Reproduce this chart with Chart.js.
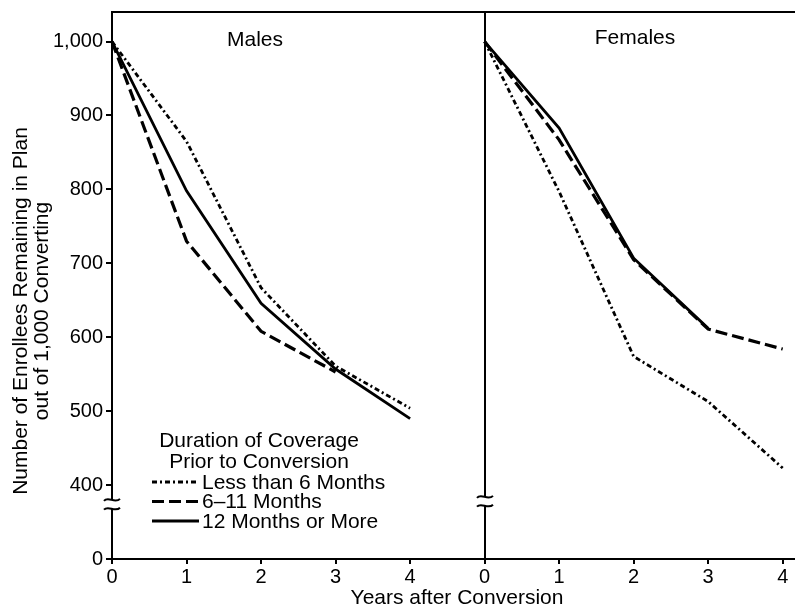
<!DOCTYPE html>
<html>
<head>
<meta charset="utf-8">
<script src="https://cdn.jsdelivr.net/npm/chart.js@4/dist/chart.umd.min.js"></script>
<style>
  html, body { margin: 0; padding: 0; background: #fff; }
  #wrap { width: 795px; height: 614px; }
</style>
</head>
<body>
<div id="wrap"><canvas id="retention"></canvas></div>
<script>
// years after conversion, same for both panels
const years = [0, 1, 2, 3, 4];
// females panel starts 5 units to the right of the males panel
const panelOffset = 5;

// enrollees remaining per 1,000 converting
const malesLess6 = [1000, 865, 667, 561, 504];
const males6to11 = [1000, 730, 608, 553];
const males12plus = [1000, 798, 646, 557, 490];
const femalesLess6 = [1000, 797, 574, 513, 423];
const females6to11 = [1000, 867, 705, 611, 584];
const females12plus = [1000, 883, 707, 612];

// ticks: the broken y axis puts "0" where 300 would sit
const yTicks = [300, 400, 500, 600, 700, 800, 900, 1000];
const xTicks = [0, 1, 2, 3, 4, 5, 6, 7, 8, 9];

const legendTitle = ['Duration of Coverage', 'Prior to Conversion'];
const seriesNames = ['Less than 6 Months', '6\u201311 Months', '12 Months or More'];

const FONT = '"Liberation Sans", Arial, sans-serif';
const styles = [
    { dash: [5, 3, 2, 3], width: 2.8 },
    { dash: [12, 5], width: 3.2 },
    { dash: [], width: 2.8 }
];

const toPoints = (vals, off) => vals.map((v, i) => ({ x: years[i] + off, y: v }));

const makeSet = (label, vals, off, s) => ({
    label: label,
    data: toPoints(vals, off),
    borderColor: '#000',
    borderWidth: s.width,
    borderDash: s.dash,
    pointRadius: 0,
    tension: 0,
    fill: false,
    clip: false
});

const datasets = [
    makeSet(seriesNames[0], malesLess6, 0, styles[0]),
    makeSet(seriesNames[1], males6to11, 0, styles[1]),
    makeSet(seriesNames[2], males12plus, 0, styles[2]),
    makeSet(seriesNames[0], femalesLess6, panelOffset, styles[0]),
    makeSet(seriesNames[1], females6to11, panelOffset, styles[1]),
    makeSet(seriesNames[2], females12plus, panelOffset, styles[2])
];

// wavy break mark across a vertical axis line
function drawBreak(ctx, x, yTop, yBot) {
    ctx.save();
    ctx.fillStyle = '#fff';
    ctx.fillRect(x - 3, yTop, 6, yBot - yTop);
    ctx.strokeStyle = '#000';
    ctx.lineWidth = 2;
    ctx.setLineDash([]);
    [yTop, yBot].forEach(y => {
        ctx.beginPath();
        ctx.moveTo(x - 8, y + 1);
        ctx.bezierCurveTo(x - 4, y - 4, x + 3, y + 4, x + 8, y - 1);
        ctx.stroke();
    });
    ctx.restore();
}

const decorPlugin = {
    id: 'decor',
    beforeDatasetsDraw(chart) {
        const { ctx, chartArea: a, scales: { x } } = chart;
        ctx.save();
        ctx.strokeStyle = '#000';
        ctx.lineWidth = 2;
        // frame top and panel divider
        ctx.beginPath();
        ctx.moveTo(a.left - 1, a.top);
        ctx.lineTo(a.right, a.top);
        const xd = Math.round(x.getPixelForValue(panelOffset));
        ctx.moveTo(xd, a.top);
        ctx.lineTo(xd, a.bottom);
        ctx.stroke();
        ctx.restore();
    },
    afterDraw(chart) {
        const { ctx, chartArea: a, scales: { x, y } } = chart;
        const b1 = y.getPixelForValue(380);
        const b2 = y.getPixelForValue(368);
        drawBreak(ctx, a.left, b1, b2);
        drawBreak(ctx, Math.round(x.getPixelForValue(panelOffset)), b1 - 3, b2 - 3);

        ctx.save();
        ctx.fillStyle = '#000';
        ctx.font = '21px ' + FONT;
        ctx.textAlign = 'center';
        ctx.textBaseline = 'middle';
        ctx.fillText('Males', 255, 40);
        ctx.fillText('Females', 635, 38);

        // axis titles
        ctx.fillText('Years after Conversion', 457, 598);
        ctx.save();
        ctx.translate(21, 311);
        ctx.rotate(-Math.PI / 2);
        ctx.fillText('Number of Enrollees Remaining in Plan', 0, 0);
        ctx.fillText('out of 1,000 Converting', 0, 21);
        ctx.restore();

        // legend inside the males panel
        ctx.fillText(legendTitle[0], 259, 441);
        ctx.fillText(legendTitle[1], 259, 462);
        ctx.textAlign = 'left';
        seriesNames.forEach((name, i) => {
            const ly = 482 + i * 19.5;
            ctx.beginPath();
            ctx.setLineDash(styles[i].dash);
            ctx.lineWidth = styles[i].width;
            ctx.moveTo(152, ly);
            ctx.lineTo(199, ly);
            ctx.stroke();
            ctx.setLineDash([]);
            ctx.fillText(name, 202, ly + 1);
        });
        ctx.restore();
    }
};

Chart.defaults.color = '#000';
Chart.defaults.font.family = FONT;

new Chart(document.getElementById('retention'), {
    type: 'line',
    data: { datasets: datasets },
    plugins: [decorPlugin],
    options: {
        responsive: true,
        maintainAspectRatio: false,
        animation: false,
        events: [],
        layout: { padding: { top: 12, right: 0, left: 0, bottom: 0 } },
        plugins: { legend: { display: false }, tooltip: { enabled: false } },
        scales: {
            x: {
                type: 'linear',
                min: 0,
                max: 9.165,
                afterBuildTicks: s => { s.ticks = xTicks.map(v => ({ value: v })); },
                afterFit: s => { s.height = 55; s.paddingLeft = 0; s.paddingRight = 0; },
                ticks: {
                    font: { size: 20 },
                    padding: 1,
                    maxRotation: 0,
                    callback: v => v >= panelOffset ? v - panelOffset : v
                },
                grid: { drawOnChartArea: false, drawTicks: true, tickLength: 5, color: '#000', lineWidth: 2 },
                border: { color: '#000', width: 2 }
            },
            y: {
                type: 'linear',
                min: 300,
                max: 1040,
                afterBuildTicks: s => { s.ticks = yTicks.map(v => ({ value: v })); },
                afterFit: s => { s.width = 112; s.paddingTop = 0; s.paddingBottom = 0; },
                ticks: {
                    font: { size: 20 },
                    padding: 3,
                    callback: v => v === 300 ? '0' : v.toLocaleString('en-US')
                },
                grid: { drawOnChartArea: false, drawTicks: true, tickLength: 6, color: '#000', lineWidth: 2 },
                border: { color: '#000', width: 2 }
            }
        }
    }
});
</script>
</body>
</html>
